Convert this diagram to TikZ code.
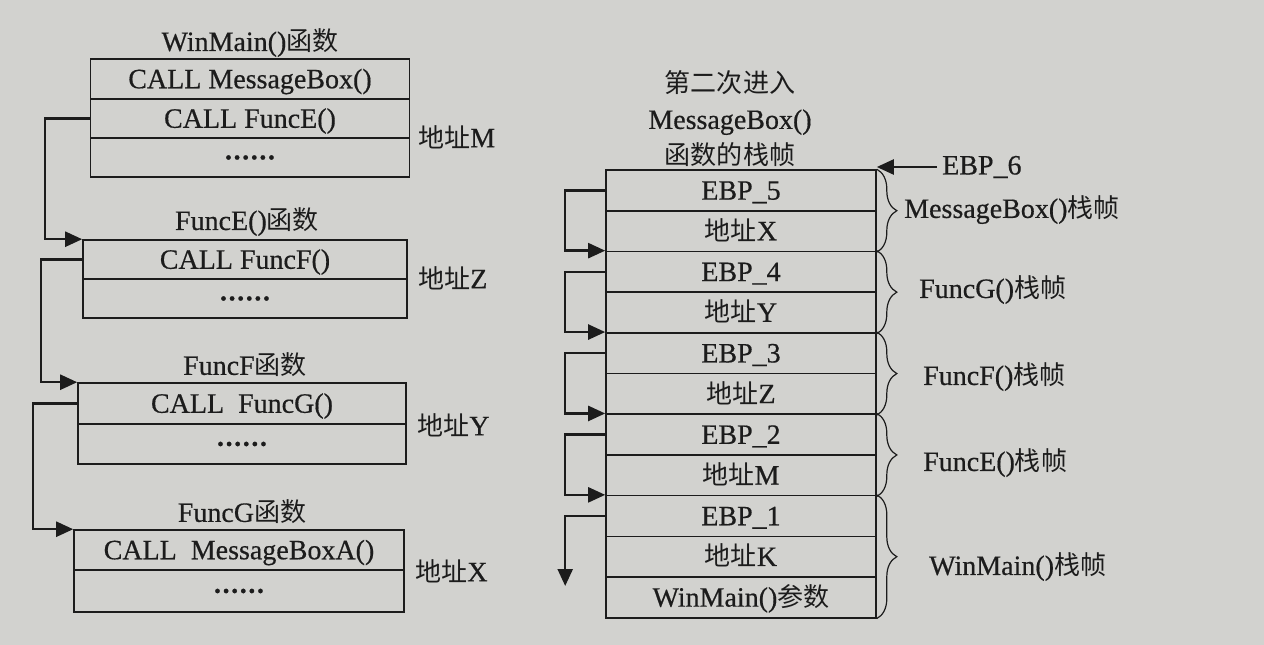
\documentclass[tikz,border=0pt]{standalone}
\usepackage{fontspec}
\setmainfont{Liberation Serif}[FakeBold=0.5]
\newfontfamily\cjk{Noto Sans CJK SC}[Scale=0.93]
\usetikzlibrary{arrows.meta,decorations.pathreplacing,calc}
\definecolor{paper}{HTML}{D2D2CF}
\definecolor{ink}{HTML}{1C1C1C}
\newcommand\zh[1]{{\cjk #1}}
\newcommand\sixdots{\textbf{.\kern1.6pt.\kern1.6pt.\kern1.6pt.\kern1.6pt.\kern1.6pt.}}
\begin{document}
\begin{tikzpicture}[x=1pt,y=-1pt,
  font=\fontsize{28}{34}\selectfont,
  cell/.style={draw=ink, line width=1.6pt, minimum height=40pt, inner sep=0pt, anchor=center, text=ink},
  txt/.style={text height=24pt, text depth=5.5pt},
  lbl/.style={text=ink, inner sep=0pt},
  arr/.style={draw=ink, line width=2.4pt, -{Triangle[length=17pt,width=15pt]}},
  brc/.style={draw=ink, line width=1.2pt, decorate, decoration={brace, amplitude=20pt}}]
\path[use as bounding box, fill=paper] (0,0) rectangle (1264,645);

% ---- left column ----
\node[lbl] (tA) at (250,43) {WinMain()\zh{函数}};
\node[cell, txt, minimum width=319pt, minimum height=40pt] (A1) at (250,79) {CALL MessageBox()};
\node[cell, txt, minimum width=319pt, minimum height=39pt] (A2) at (250,118.5) {CALL FuncE()};
\node[cell, minimum width=319pt, minimum height=39pt] (A3) at (250,157.5) {\sixdots};
\node[lbl, anchor=west] (aM) at (418,137) {\zh{地址}M};

\node[lbl] (tE) at (247,222) {FuncE()\zh{函数}};
\node[cell, txt, minimum width=324pt, minimum height=39pt] (E1) at (245,259.5) {CALL FuncF()};
\node[cell, minimum width=324pt, minimum height=39pt] (E2) at (245,298.5) {\sixdots};
\node[lbl, anchor=west] (aZ) at (418,278) {\zh{地址}Z};

\node[lbl] (tF) at (245,365) {FuncF\zh{函数}};
\node[cell, txt, minimum width=328pt, minimum height=41pt] (F1) at (242,403.5) {CALL\ \ FuncG()};
\node[cell, minimum width=328pt, minimum height=40pt] (F2) at (242,444) {\sixdots};
\node[lbl, anchor=west] (aY) at (417,425) {\zh{地址}Y};

\node[lbl] (tG) at (242,512) {FuncG\zh{函数}};
\node[cell, txt, minimum width=330pt, minimum height=40pt] (G1) at (239,550) {CALL\ \ MessageBoxA()};
\node[cell, minimum width=330pt, minimum height=42pt] (G2) at (239,591) {\sixdots};
\node[lbl, anchor=west] (aX) at (415,571) {\zh{地址}X};

\draw[arr] (A2.west) -- ++(-45,0) |- (E1.north west);
\draw[arr] (E1.west) -- ++(-41,0) |- (F1.north west);
\draw[arr] (F1.west) -- ++(-44,0) |- (G1.north west);

% ---- right stack ----
\node[lbl, align=center, font=\fontsize{28}{36}\selectfont] (ttl) at (730,119) {\zh{第二次进入}\\MessageBox()\\\zh{函数的栈帧}};
\begin{scope}[every node/.style={cell, txt, minimum width=270pt, minimum height=40.7pt}]
\node (r1) at (741,190.4) {EBP\_5};
\node (r2) at (741,231.0) {\zh{地址}X};
\node (r3) at (741,271.8) {EBP\_4};
\node (r4) at (741,312.5) {\zh{地址}Y};
\node (r5) at (741,353.2) {EBP\_3};
\node (r6) at (741,393.9) {\zh{地址}Z};
\node (r7) at (741,434.6) {EBP\_2};
\node (r8) at (741,475.3) {\zh{地址}M};
\node (r9) at (741,516.0) {EBP\_1};
\node (r10) at (741,556.7) {\zh{地址}K};
\node (r11) at (741,597.4) {WinMain()\zh{参数}};
\end{scope}

\draw[arr] (r1.west) -- ++(-40,0) |- (r3.north west);
\draw[arr] (r3.west) -- ++(-40,0) |- (r5.north west);
\draw[arr] (r5.west) -- ++(-40,0) |- (r7.north west);
\draw[arr] (r7.west) -- ++(-40,0) |- (r9.north west);
\coordinate (endK) at ($(r9.west)+(-40,70)$);
\draw[arr] (r9.west) -- ++(-40,0) -- (endK);

\node[lbl, anchor=west] (e6) at (942,167) {EBP\_6};
\draw[arr] ([xshift=-5pt]e6.west) -- (e6.west -| r1.east);

\draw[brc] (r1.north east) -- (r2.south east);
\draw[brc] (r3.north east) -- (r4.south east);
\draw[brc] (r5.north east) -- (r6.south east);
\draw[brc] (r7.north east) -- (r8.south east);
\draw[brc] (r9.north east) -- (r11.south east);

\node[lbl, anchor=west] (bMB) at (904,210) {MessageBox()\zh{栈帧}};
\node[lbl, anchor=west] (bG) at (919,290) {FuncG()\zh{栈帧}};
\node[lbl, anchor=west] (bF) at (923,377) {FuncF()\zh{栈帧}};
\node[lbl, anchor=west] (bE) at (923,463) {FuncE()\zh{栈帧}};
\node[lbl, anchor=west] (bW) at (929,567) {WinMain()\zh{栈帧}};
\end{tikzpicture}
\end{document}
